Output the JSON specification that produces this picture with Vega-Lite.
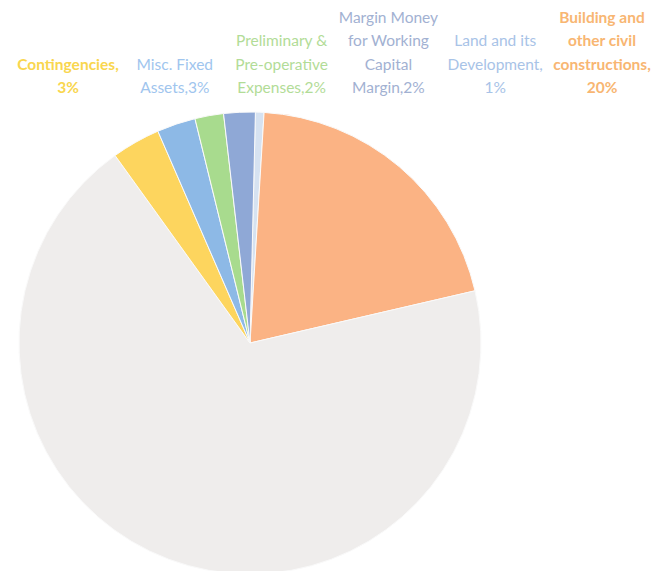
{
  "$schema": "https://vega.github.io/schema/vega-lite/v6.json",
  "padding": 0,
  "autosize": {"type": "pad"},
  "spacing": 0,
  "background": "white",
  "config": {"view": {"stroke": null}, "concat": {"spacing": 0}},
  "datasets": {
    "cost": [
      {"category": "Land and its Development", "value": 0.6, "ord": 1, "label": ["Land and its", "Development,", "1%"]},
      {"category": "Building and other civil constructions", "value": 20.4, "ord": 2, "label": ["Building and", "other civil", "constructions,", "20%"]},
      {"category": "Plant and Machinery", "value": 68.7, "ord": 3, "label": []},
      {"category": "Contingencies", "value": 3.4, "ord": 4, "label": ["Contingencies,", "3%"]},
      {"category": "Misc. Fixed Assets", "value": 2.7, "ord": 5, "label": ["Misc. Fixed", "Assets,3%"]},
      {"category": "Preliminary & Pre-operative Expenses", "value": 2.0, "ord": 6, "label": ["Preliminary &", "Pre-operative", "Expenses,2%"]},
      {"category": "Margin Money for Working Capital Margin", "value": 2.2, "ord": 7, "label": ["Margin Money", "for Working", "Capital", "Margin,2%"]}
    ]
  },
  "vconcat": [
    {
      "width": 662,
      "height": 110,
      "data": {"name": "cost"},
      "transform": [
        {"calculate": "length(datum.label)", "as": "lines"},
        {"filter": "datum.lines > 0"}
      ],
      "encoding": {
        "x": {
          "field": "category", "type": "nominal",
          "scale": {"type": "point", "padding": 0, "range": [68, 602], "domain": ["Contingencies", "Misc. Fixed Assets", "Preliminary & Pre-operative Expenses", "Margin Money for Working Capital Margin", "Land and its Development", "Building and other civil constructions"]},
          "axis": null
        },
        "y": {"field": "lines", "type": "quantitative", "scale": {"domain": [1, 4], "range": [88, 17.5]}, "axis": null},
        "text": {"field": "label"},
        "color": {
          "field": "category", "type": "nominal",
          "scale": {
            "domain": ["Contingencies", "Misc. Fixed Assets", "Preliminary & Pre-operative Expenses", "Margin Money for Working Capital Margin", "Land and its Development", "Building and other civil constructions"],
            "range": ["#F9D64E", "#A0C5EE", "#B2DC97", "#A2B1D2", "#A8C3E7", "#F8B672"]
          },
          "legend": null
        }
      },
      "layer": [
        {
          "transform": [{"filter": "datum.category != 'Contingencies' && datum.category != 'Building and other civil constructions'"}],
          "mark": {"type": "text", "baseline": "middle", "align": "center", "lineHeight": 23.5, "fontSize": 15.5, "font": "Lato"}
        },
        {
          "transform": [{"filter": "datum.category == 'Contingencies' || datum.category == 'Building and other civil constructions'"}],
          "mark": {"type": "text", "baseline": "middle", "align": "center", "lineHeight": 23.5, "fontSize": 15.5, "font": "Lato", "fontWeight": "bold"}
        }
      ]
    },
    {
      "width": 500,
      "height": 462,
      "data": {"name": "cost"},
      "mark": {"type": "arc", "outerRadius": 231, "stroke": "#FAFAFA", "strokeWidth": 1},
      "encoding": {
        "theta": {"field": "value", "type": "quantitative", "stack": true, "scale": {"range": [0.0234, 6.3066]}},
        "order": {"field": "ord", "type": "quantitative"},
        "color": {
          "field": "category", "type": "nominal",
          "scale": {
            "domain": ["Land and its Development", "Building and other civil constructions", "Plant and Machinery", "Contingencies", "Misc. Fixed Assets", "Preliminary & Pre-operative Expenses", "Margin Money for Working Capital Margin"],
            "range": ["#D6E2F1", "#FBB384", "#EFEDEC", "#FDD55E", "#8DB9E6", "#A8DB8E", "#8FA8D6"]
          },
          "legend": null
        }
      }
    }
  ],
  "resolve": {"scale": {"color": "independent"}}
}
